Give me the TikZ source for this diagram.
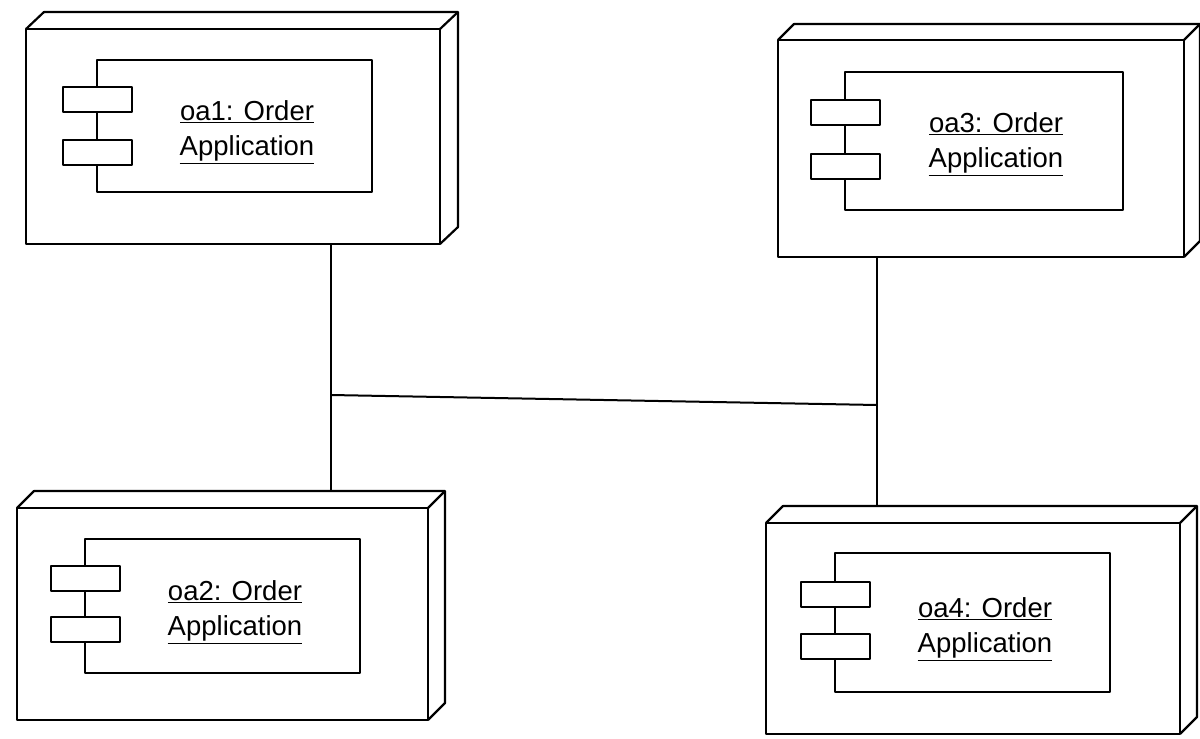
\documentclass[tikz,border=0pt]{standalone}
\usepackage{fontspec}
\setmainfont{Liberation Sans}
\begin{document}
\begin{tikzpicture}[x=1pt,y=-1pt,line join=round,
  front/.style={draw,line width=2.2pt,inner sep=0pt,outer sep=0pt,fill=white},
  side/.style={draw,line width=2.2pt},
  comp/.style={draw,line width=2pt,inner sep=0pt,outer sep=0pt},
  tabbox/.style={draw,line width=2pt,fill=white,inner sep=0pt,outer sep=0pt,minimum width=69pt,minimum height=25pt},
  lbl/.style={align=center,inner sep=0pt,font=\fontsize{27.5}{35}\selectfont},
  wire/.style={draw,line width=2pt}]
\useasboundingbox (0,0) rectangle (1200,739);
% ---- node oa1
\node[front,minimum width=414pt,minimum height=215pt] (n1) at (233,136.5) {};
\draw[side] (n1.north west) -- ++(18,-17) -| ([shift={(18,-17)}]n1.south east) -- (n1.south east);
\draw[side] (n1.north east) -- ++(18,-17);
\node[comp,minimum width=275pt,minimum height=132pt] (c1) at (234.5,126) {};
\node[tabbox] (t1a) at (97.5,99) {};
\node[tabbox] (t1b) at (97.5,152) {};
\node[lbl] (l1) at (247,132) {\underline{oa1: Order}\\\underline{Application}};
% ---- node oa2
\node[front,minimum width=411pt,minimum height=212pt] (n2) at (222.5,614) {};
\draw[side] (n2.north west) -- ++(17,-17) -| ([shift={(17,-17)}]n2.south east) -- (n2.south east);
\draw[side] (n2.north east) -- ++(17,-17);
\node[comp,minimum width=275pt,minimum height=134pt] (c2) at (222.5,606) {};
\node[tabbox] (t2a) at (85,578.5) {};
\node[tabbox] (t2b) at (85,629) {};
\node[lbl] (l2) at (235,612) {\underline{oa2: Order}\\\underline{Application}};
% ---- node oa3
\node[front,minimum width=406pt,minimum height=217pt] (n3) at (981,148.5) {};
\draw[side] (n3.north west) -- ++(16,-16) -| ([shift={(16,-16)}]n3.south east) -- (n3.south east);
\draw[side] (n3.north east) -- ++(16,-16);
\node[comp,minimum width=278pt,minimum height=138pt] (c3) at (984,141) {};
\node[tabbox] (t3a) at (845.5,112) {};
\node[tabbox] (t3b) at (845.5,166) {};
\node[lbl] (l3) at (996,144) {\underline{oa3: Order}\\\underline{Application}};
% ---- node oa4
\node[front,minimum width=414pt,minimum height=211pt] (n4) at (973,628.5) {};
\draw[side] (n4.north west) -- ++(17,-17) -| ([shift={(17,-17)}]n4.south east) -- (n4.south east);
\draw[side] (n4.north east) -- ++(17,-17);
\node[comp,minimum width=275pt,minimum height=139pt] (c4) at (972.5,622.5) {};
\node[tabbox] (t4a) at (835,594) {};
\node[tabbox] (t4b) at (835,646.5) {};
\node[lbl] (l4) at (985,629) {\underline{oa4: Order}\\\underline{Application}};
% ---- connectors
\coordinate (j1) at (331,395);
\coordinate (j2) at (877,405);
\coordinate (n2top) at ([yshift=17pt]n2.north);
\coordinate (n4top) at ([yshift=17pt]n4.north);
\draw[wire] (n1.south -| j1) -- (j1) -- (n2top -| j1);
\draw[wire] (j1) -- (j2);
\draw[wire] (n3.south -| j2) -- (j2) -- (n4top -| j2);
\end{tikzpicture}
\end{document}
